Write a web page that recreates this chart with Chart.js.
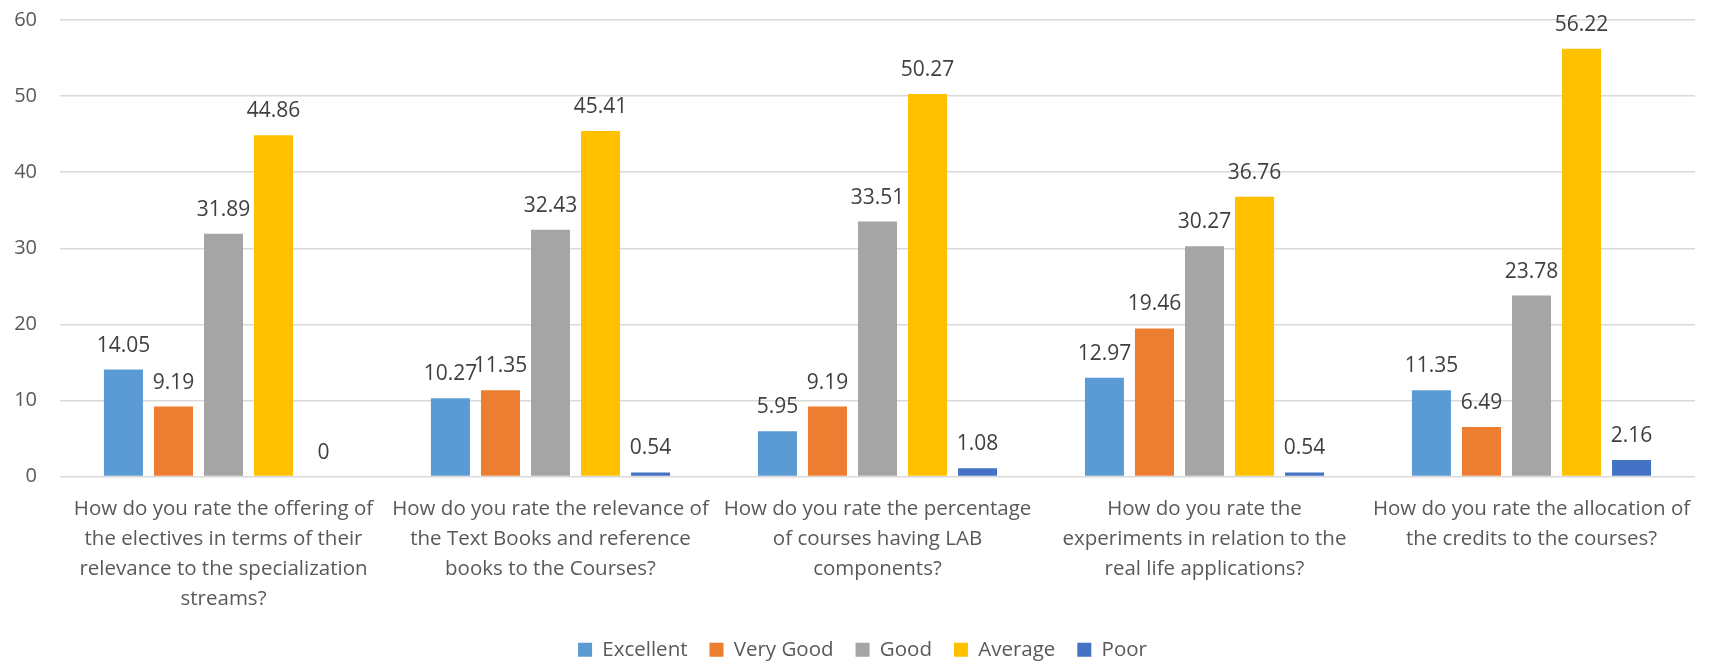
<!DOCTYPE html>
<html>
<head>
<meta charset="utf-8">
<script src="https://cdn.jsdelivr.net/npm/chart.js@4/dist/chart.umd.min.js"></script>
<style>
  html, body { margin: 0; padding: 0; background: #fff; overflow: hidden; }
  #wrap { width: 1711px; height: 670px; position: relative; }
</style>
</head>
<body>
<div id="wrap"><canvas id="c" width="1711" height="670"></canvas></div>
<script>
const categories = [
  ["How do you rate the offering of", "the electives in terms of their", "relevance to the specialization", "streams?"],
  ["How do you rate the relevance of", "the Text Books and reference", "books to the Courses?"],
  ["How do you rate the percentage", "of courses having LAB", "components?"],
  ["How do you rate the", "experiments in relation to the", "real life applications?"],
  ["How do you rate the allocation of", "the credits to the courses?"]
];
const seriesNames = ["Excellent", "Very Good", "Good", "Average", "Poor"];
const excellent = [14.05, 10.27, 5.95, 12.97, 11.35];
const veryGood = [9.19, 11.35, 9.19, 19.46, 6.49];
const good = [31.89, 32.43, 33.51, 30.27, 23.78];
const average = [44.86, 45.41, 50.27, 36.76, 56.22];
const poor = [0, 0.54, 1.08, 0.54, 2.16];
const yTicks = [0, 10, 20, 30, 40, 50, 60];

const colors = ["#5B9BD5", "#ED7D31", "#A5A5A5", "#FFC000", "#4472C4"];
const FONT = "'Open Sans', 'Noto Sans', sans-serif";

const dataLabels = {
  id: 'dataLabels',
  afterDatasetsDraw(chart) {
    const ctx = chart.ctx;
    ctx.save();
    ctx.font = "21px " + FONT;
    ctx.fillStyle = "#404040";
    ctx.textAlign = "center";
    ctx.textBaseline = "alphabetic";
    chart.data.datasets.forEach((ds, i) => {
      const meta = chart.getDatasetMeta(i);
      meta.data.forEach((bar, j) => {
        ctx.fillText(String(ds.data[j]), bar.x, bar.y - 18);
      });
    });
    ctx.restore();
  }
};

const legendShift = {
  id: 'legendShift',
  afterLayout(chart) {
    if (chart.legend) { chart.legend.left += 15; chart.legend.right += 15; }
  }
};

const allSeries = [excellent, veryGood, good, average, poor];
new Chart(document.getElementById('c'), {
  type: 'bar',
  data: {
    labels: categories,
    datasets: allSeries.map((d, i) => ({
      label: seriesNames[i],
      data: d,
      backgroundColor: colors[i],
      borderWidth: 0,
      barPercentage: 0.78,
      categoryPercentage: 0.765
    }))
  },
  options: {
    responsive: false,
    animation: false,
    layout: { padding: { top: 20, right: 16, left: 0, bottom: 0 } },
    plugins: {
      tooltip: { enabled: false },
      legend: {
        position: 'bottom',
        labels: {
          boxWidth: 14, boxHeight: 14,
          color: '#595959',
          font: { size: 20.5, family: FONT },
          padding: 22
        }
      }
    },
    scales: {
      y: {
        min: 0, max: 60,
        afterBuildTicks(axis) { axis.ticks = yTicks.map(v => ({ value: v })); },
        afterFit(axis) { axis.width = 60; axis.paddingTop = 0; axis.paddingBottom = 0; },
        grid: { color: '#D9D9D9', lineWidth: 1.5, drawTicks: false },
        border: { display: false },
        ticks: { color: '#595959', font: { size: 20, family: FONT }, padding: 23 }
      },
      x: {
        grid: { display: false, drawTicks: false },
        border: { display: false },
        afterFit(axis) { axis.height = 141; axis.paddingLeft = 0; axis.paddingRight = 0; },
        ticks: { color: '#595959', font: { size: 20.5, family: FONT, lineHeight: 1.46 }, padding: 18, maxRotation: 0, autoSkip: false }
      }
    }
  },
  plugins: [dataLabels, legendShift]
});
</script>
</body>
</html>
